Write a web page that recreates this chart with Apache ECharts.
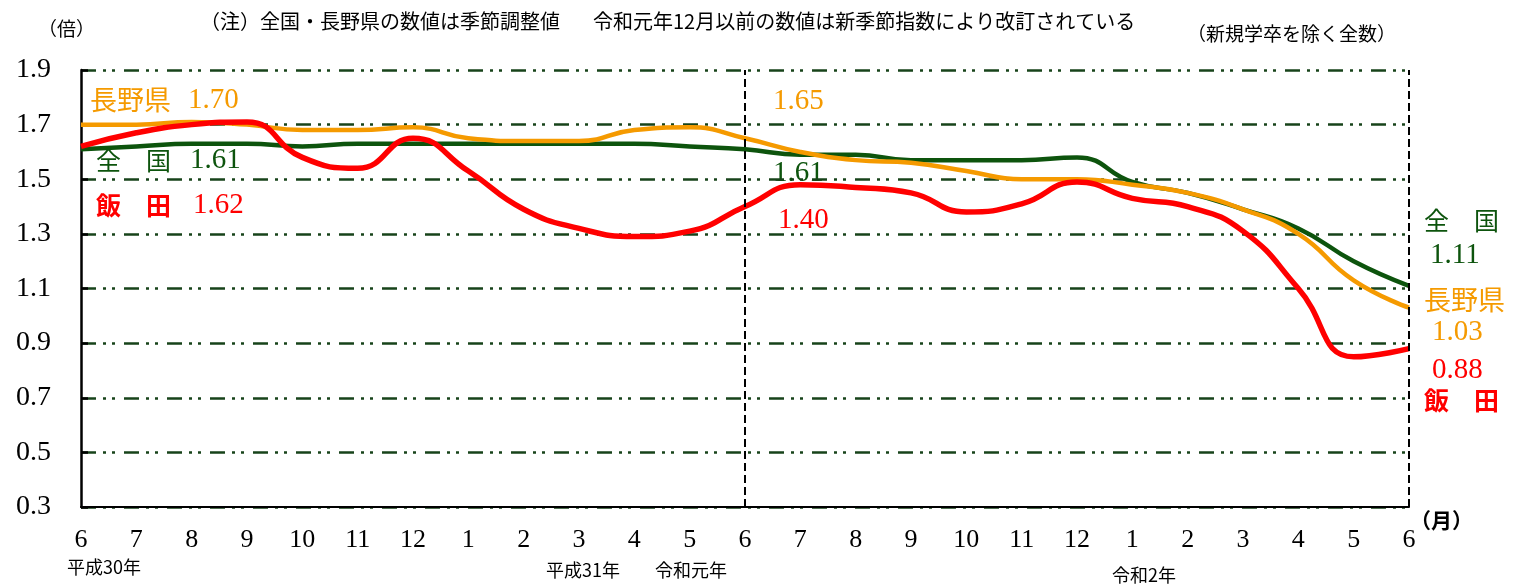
<!DOCTYPE html>
<html>
<head>
<meta charset="utf-8">
<script src="https://cdn.jsdelivr.net/npm/echarts@6/dist/echarts.min.js"></script>
<style>
html,body{margin:0;padding:0;background:#fff;}
#chart{width:1524px;height:584px;}
</style>
</head>
<body>
<div id="chart"></div>
<script>
var months = ['6','7','8','9','10','11','12','1','2','3','4','5','6','7','8','9','10','11','12','1','2','3','4','5','6'];
var zenkoku = [1.61,1.62,1.63,1.63,1.62,1.63,1.63,1.63,1.63,1.63,1.63,1.62,1.61,1.59,1.59,1.57,1.57,1.57,1.58,1.49,1.45,1.39,1.32,1.20,1.11];
var nagano = [1.70,1.70,1.71,1.70,1.68,1.68,1.69,1.65,1.64,1.64,1.68,1.69,1.65,1.60,1.57,1.56,1.53,1.50,1.50,1.48,1.45,1.39,1.30,1.13,1.03];
var iida = [1.62,1.67,1.70,1.71,1.58,1.54,1.65,1.53,1.39,1.32,1.29,1.31,1.40,1.48,1.47,1.45,1.38,1.41,1.49,1.43,1.40,1.31,1.10,0.85,0.88];
// 縦の点線 (令和元年6月, 最終月)
var dividers = [12, 24];

var GREEN = '#0d540d';
var ORANGE = '#f59a00';
var RED = '#ff0000';
var SERIF = '"Liberation Serif", "Times New Roman", serif';
var GOTHIC = '"Noto Sans CJK JP", "Noto Sans", sans-serif';

function txt(x, y, s, color, size, family, weight){
    return {
        type: 'text', x: x, y: y, silent: true,
        style: {
            text: s, fill: color, fontSize: size, fontFamily: family,
            fontWeight: weight || 'normal', align: 'left', verticalAlign: 'middle'
        }
    };
}

var chartDom = document.getElementById('chart');
var myChart = echarts.init(chartDom);
var option;

option = {
    animation: false,
    backgroundColor: '#fff',
    grid: {
        left: 81,
        right: 115,
        top: 70,
        bottom: 77
    },
    xAxis: {
        type: 'category',
        boundaryGap: false,
        data: months,
        axisLine: { lineStyle: { color: '#000', width: 2 } },
        axisTick: { show: false },
        axisLabel: { color: '#000', fontSize: 26, fontFamily: SERIF, margin: 20 },
        splitLine: { show: false }
    },
    yAxis: {
        type: 'value',
        min: 0.3,
        max: 1.9,
        interval: 0.2,
        axisLine: { show: true, lineStyle: { color: '#000', width: 2.5 } },
        axisTick: { show: true, inside: true, length: 7, lineStyle: { color: '#000', width: 2.5 } },
        axisLabel: {
            color: '#000', fontSize: 28, fontFamily: SERIF, margin: 30,
            formatter: function(v){ return v.toFixed(1); }
        },
        splitLine: {
            show: true,
            lineStyle: { color: '#17431a', width: 2.5, type: [15, 7, 3, 6, 3, 9] }
        }
    },
    series: [
        {
            name: '全国',
            type: 'line',
            data: zenkoku,
            smooth: 0.5,
            symbol: 'none',
            lineStyle: { color: GREEN, width: 4.5 },
            markLine: {
                silent: true,
                symbol: 'none',
                label: { show: false },
                lineStyle: { color: '#000', width: 2, type: [8, 4] },
                data: dividers.map(function(i){ return { xAxis: i }; })
            }
        },
        {
            name: '長野県',
            type: 'line',
            data: nagano,
            smooth: 0.5,
            symbol: 'none',
            lineStyle: { color: ORANGE, width: 4.5 }
        },
        {
            name: '飯田',
            type: 'line',
            data: iida,
            smooth: 0.5,
            symbol: 'none',
            lineStyle: { color: RED, width: 5.5 }
        }
    ],
    graphic: [
        txt(38, 29, '（倍）', '#000', 19, GOTHIC),
        txt(200, 21, '（注）全国・長野県の数値は季節調整値', '#000', 20, GOTHIC),
        txt(593, 21, '令和元年12月以前の数値は新季節指数により改訂されている', '#000', 20, GOTHIC),
        txt(1187, 34, '（新規学卒を除く全数）', '#000', 19, GOTHIC),
        txt(1410, 520, '（月）', '#000', 21, GOTHIC, 'bold'),
        txt(67, 567, '平成30年', '#000', 18, GOTHIC),
        txt(546, 570, '平成31年', '#000', 18, GOTHIC),
        txt(655, 570, '令和元年', '#000', 18, GOTHIC),
        txt(1112, 575, '令和2年', '#000', 18, GOTHIC),

        txt(90, 100, '長野県', ORANGE, 27, GOTHIC),
        txt(188, 100, '1.70', ORANGE, 29, SERIF),
        txt(96, 160, '全　国', GREEN, 25, GOTHIC),
        txt(190, 160, '1.61', GREEN, 29, SERIF),
        txt(96, 205, '飯　田', RED, 25, GOTHIC, 'bold'),
        txt(193, 205, '1.62', RED, 29, SERIF),

        txt(773, 101, '1.65', ORANGE, 29, SERIF),
        txt(773, 173, '1.61', GREEN, 29, SERIF),
        txt(778, 220, '1.40', RED, 29, SERIF),

        txt(1424, 220, '全　国', GREEN, 25, GOTHIC),
        txt(1430, 255, '1.11', GREEN, 29, SERIF),
        txt(1424, 300, '長野県', ORANGE, 27, GOTHIC),
        txt(1432, 332, '1.03', ORANGE, 29, SERIF),
        txt(1432, 370, '0.88', RED, 29, SERIF),
        txt(1424, 400, '飯　田', RED, 25, GOTHIC, 'bold')
    ]
};

option && myChart.setOption(option);
</script>
</body>
</html>
